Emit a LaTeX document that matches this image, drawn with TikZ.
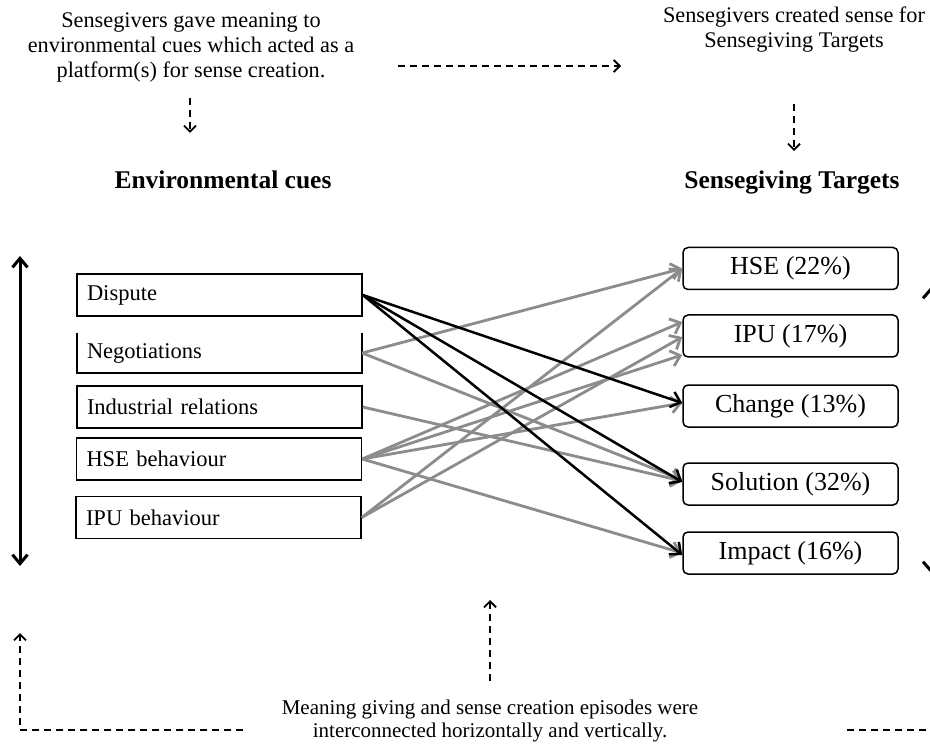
\documentclass[tikz,border=0pt]{standalone}
\usepackage{fontspec}
\setmainfont{Liberation Serif}
\usetikzlibrary{arrows.meta}
\tikzset{
  leftbox/.style={draw, line width=1.5pt, minimum height=42pt, text width=265pt, inner xsep=10pt, inner ysep=0pt, align=left, font=\fontsize{22.5}{26}\selectfont},
  leftopen/.style={draw=none, minimum height=40pt, text width=265pt, inner xsep=10pt, inner ysep=0pt, align=left, font=\fontsize{22.5}{26}\selectfont},
  rightbox/.style={draw, line width=1.5pt, rounded corners=5pt, minimum height=42pt, minimum width=215pt, inner sep=0pt, font=\fontsize{26}{30}\selectfont},
  note/.style={align=center, inner sep=0pt, font=\fontsize{22.3}{25}\selectfont},
  bnote/.style={align=center, inner sep=0pt, font=\fontsize{21}{23.5}\selectfont},
  heading/.style={align=center, inner sep=0pt, anchor=base, font=\fontsize{25.5}{30}\selectfont\bfseries},
  grayline/.style={draw=black!45, line width=2.8pt, -{Straight Barb[length=9pt,width=16pt]}},
  blackline/.style={draw=black, line width=2.5pt, -{Straight Barb[length=9pt,width=16pt]}},
  dasharrow/.style={draw=black, line width=1.8pt, dash pattern=on 7pt off 5pt, -{Straight Barb[length=6pt,width=12pt]}},
  dashline/.style={draw=black, line width=1.8pt, dash pattern=on 7pt off 5pt},
  bigarrow/.style={draw=black, line width=3pt, {Straight Barb[length=9pt,width=15pt]}-{Straight Barb[length=9pt,width=15pt]}},
  rightarrow/.style={draw=black, line width=3pt, {Straight Barb[length=16pt,width=28pt]}-{Straight Barb[length=16pt,width=28pt]}}
}
\begin{document}
\begin{tikzpicture}[x=1pt,y=-1pt]
\useasboundingbox (0,0) rectangle (930,746);
\clip (0,0) rectangle (930,746);
\fill[white] (0,0) rectangle (930,746);

% top texts
\node[note] (topleft) at (191,47) {Sensegivers gave meaning to\\environmental cues which acted as a\\platform(s) for sense creation.};
\node[note] (topright) at (794,30) {Sensegivers created sense for\\Sensegiving Targets};
\node[heading] (envc) at (223,189) {Environmental cues};
\node[heading] (sgt) at (792,189) {Sensegiving Targets};

% left boxes
\node[leftbox] (dispute) at (219.5,295) {Dispute};
\node[leftopen] (neg) at (219.5,353) {Negotiations};
\draw[line width=1.5pt] (neg.north west) -- (neg.south west) -- (neg.south east) -- (neg.north east);
\node[leftbox] (ir) at (219.5,407) {Industrial relations};
\node[leftbox] (hseb) at (219,459) {HSE behaviour};
\node[leftbox] (ipub) at (218.5,517.5) {IPU behaviour};

% right boxes
\node[rightbox] (hse) at (790.5,268.5) {HSE (22\%)};
\node[rightbox] (ipu) at (790.5,336) {IPU (17\%)};
\node[rightbox] (change) at (790.5,406) {Change (13\%)};
\node[rightbox] (solution) at (790.5,484) {Solution (32\%)};
\node[rightbox] (impact) at (790.5,553) {Impact (16\%)};

% gray connectors
\draw[grayline] (neg.east) -- (hse.west);
\draw[grayline] (neg.east) -- ([yshift=4pt]solution.west);
\draw[grayline] (ir.east) -- ([yshift=3pt]solution.west);
\draw[grayline] (hseb.east) -- ([yshift=14pt]ipu.west);
\draw[grayline] (hseb.east) -- ([yshift=-19pt]ipu.west);
\draw[grayline] (hseb.east) -- ([yshift=3pt]change.west);
\draw[grayline] (hseb.east) -- (impact.west);
\draw[grayline] (ipub.east) -- (hse.west);
\draw[grayline] (ipub.east) -- ([yshift=-1pt]ipu.west);

% black connectors
\draw[blackline] (dispute.east) -- ([yshift=3pt]change.west);
\draw[blackline] (dispute.east) -- ([yshift=2pt]solution.west);
\draw[blackline] (dispute.east) -- ([yshift=-2pt]impact.west);

% left vertical double arrow
\coordinate (lt) at (20,256);
\coordinate (lb) at (20,566);
\draw[bigarrow] (lt) -- (lb);

% right vertical double arrow (mostly outside the picture)
\coordinate (rt) at (937,280);
\coordinate (rb) at (937,580);
\draw[rightarrow] (rt) -- (rb);

% dashed arrows at top
\coordinate (a1s) at (190,98);
\coordinate (a1e) at (190,133);
\draw[dasharrow] (a1s) -- (a1e);
\coordinate (a2s) at (794,104);
\coordinate (a2e) at (794,151);
\draw[dasharrow] (a2s) -- (a2e);
\coordinate (hs) at (398,66);
\coordinate (he) at (621,66);
\draw[dasharrow] (hs) -- (he);

% bottom
\node[bnote] (bottom) at (490,721) {Meaning giving and sense creation episodes were\\interconnected horizontally and vertically.};
\coordinate (ms) at (490,681);
\coordinate (me) at (490,600);
\draw[dasharrow] (ms) -- (me);
\coordinate (bl1) at (243,730);
\coordinate (bl2) at (20,730);
\coordinate (bl3) at (20,633);
\draw[dasharrow] (bl1) -- (bl2) -- (bl3);
\coordinate (br1) at (847,730);
\coordinate (br2) at (935,730);
\draw[dashline] (br1) -- (br2);
\end{tikzpicture}
\end{document}
